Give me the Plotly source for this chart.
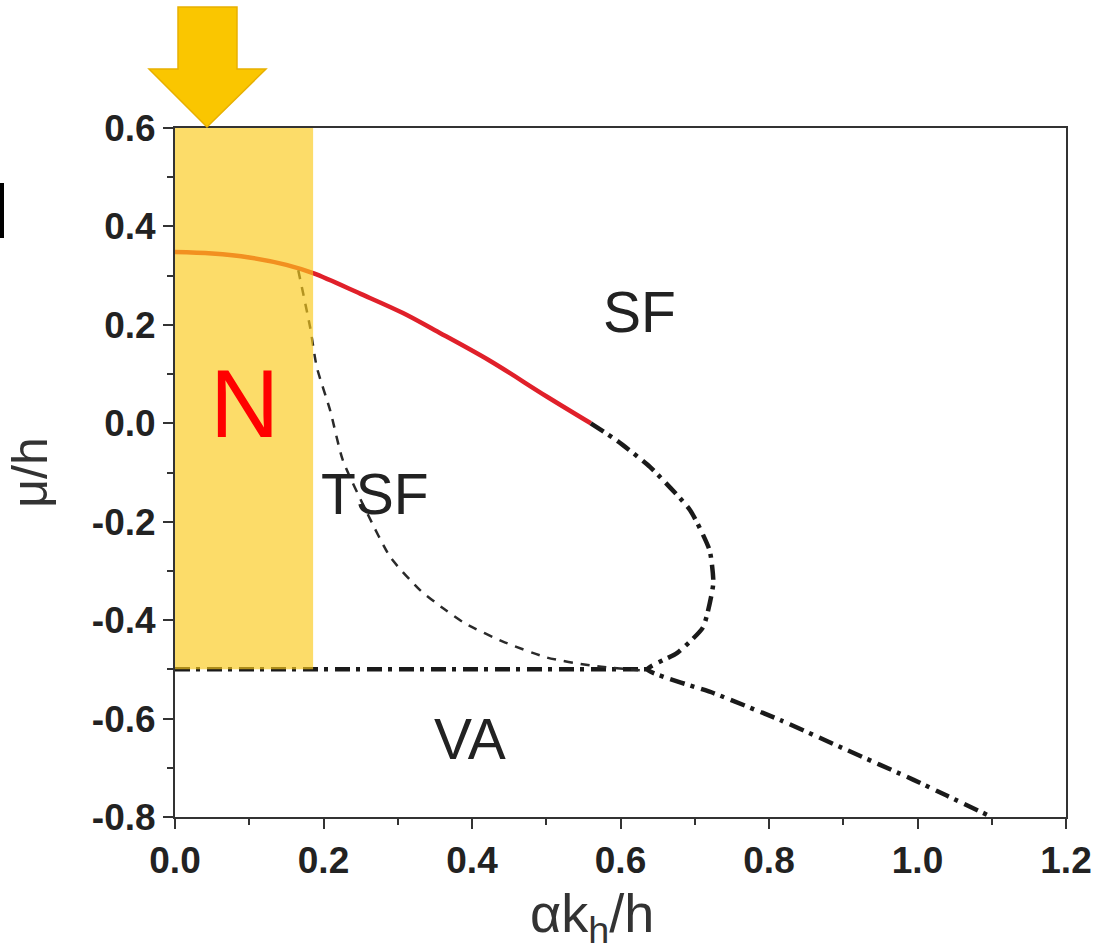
import plotly.graph_objects as go

# ---- data ----
# SF / TSF boundary (solid red)
red_x = [0.0, 0.05, 0.1, 0.15, 0.186, 0.25, 0.307, 0.35, 0.424, 0.5, 0.56]
red_y = [0.348, 0.345, 0.337, 0.322, 0.305, 0.263, 0.224, 0.189, 0.127, 0.055, 0.0]

# dash-dot continuation: loop + lower VA boundary
dd_x = [0.56, 0.595, 0.64, 0.694, 0.72, 0.725, 0.711, 0.676, 0.636,
        0.725, 0.815, 0.905, 0.994, 1.04, 1.1]
dd_y = [0.0, -0.035, -0.089, -0.177, -0.258, -0.325, -0.415, -0.467, -0.5,
        -0.548, -0.603, -0.664, -0.724, -0.757, -0.8]

# horizontal dash-dot at mu/h = -0.5
hz_x = [0.0, 0.636]
hz_y = [-0.5, -0.5]

# thin dashed TSF boundary
dash_x = [0.166, 0.182, 0.191, 0.209, 0.226, 0.259, 0.290, 0.330, 0.363,
          0.391, 0.444, 0.501, 0.559, 0.626]
dash_y = [0.311, 0.195, 0.114, 0.026, -0.075, -0.183, -0.272, -0.339, -0.378,
          -0.407, -0.445, -0.476, -0.492, -0.502]

# highlighted N region
n_x = [0.0, 0.186]
n_y = [-0.5, 0.6]

# region labels
lab_text = ["SF", "TSF", "VA"]
lab_x = [0.626, 0.27, 0.397]
lab_y = [0.226, -0.144, -0.642]

x_ticks = [0.0, 0.2, 0.4, 0.6, 0.8, 1.0, 1.2]
y_ticks = [0.6, 0.4, 0.2, 0.0, -0.2, -0.4, -0.6, -0.8]

W, H = 1108, 952
ML, MR, MT, MB = 175, 42, 128, 135
PW, PH = W - ML - MR, H - MT - MB


def px(xp):
    return (xp - ML) / PW


def py(yp):
    return (H - MB - yp) / PH


fig = go.Figure()

fig.add_trace(go.Scatter(x=red_x, y=red_y, mode="lines",
                         line=dict(color="#e0202a", width=4.5, shape="spline", smoothing=1.0),
                         hoverinfo="skip", showlegend=False))
fig.add_trace(go.Scatter(x=dd_x, y=dd_y, mode="lines",
                         line=dict(color="#1a1a1a", width=4.5, dash="15px,6px,4px,7px",
                                   shape="spline", smoothing=0.5),
                         hoverinfo="skip", showlegend=False))
fig.add_trace(go.Scatter(x=hz_x, y=hz_y, mode="lines",
                         line=dict(color="#1a1a1a", width=4.5, dash="15px,6px,4px,7px"),
                         hoverinfo="skip", showlegend=False))
fig.add_trace(go.Scatter(x=dash_x, y=dash_y, mode="lines",
                         line=dict(color="#2a2a2a", width=2.5, dash="9px,8px",
                                   shape="spline", smoothing=0.6),
                         hoverinfo="skip", showlegend=False))

shapes = []
# semi-transparent yellow N band
shapes.append(dict(type="rect", xref="x", yref="y", x0=n_x[0], x1=n_x[1],
                   y0=n_y[0], y1=n_y[1], fillcolor="rgb(251,202,28)", opacity=0.66,
                   line=dict(width=0), layer="above"))
# gold arrow (decoration above the plot)
ax = [178, 237, 237, 266, 207, 149, 178]
ay = [7, 7, 69, 69, 127, 69, 69]
path = "M " + " L ".join(f"{px(a):.5f},{py(b):.5f}" for a, b in zip(ax, ay)) + " Z"
shapes.append(dict(type="path", xref="paper", yref="paper", path=path,
                   fillcolor="#fac600", line=dict(color="#e8b000", width=1.5), layer="above"))
# clipped glyph at the far left
shapes.append(dict(type="rect", xref="paper", yref="paper", x0=px(0), x1=px(4),
                   y0=py(238), y1=py(183), fillcolor="black", line=dict(width=0)))

annotations = []
for t, x, y in zip(lab_text, lab_x, lab_y):
    annotations.append(dict(x=x, y=y, xref="x", yref="y", text=t, showarrow=False,
                            font=dict(family="Liberation Sans, Arial", size=57, color="#222")))
annotations.append(dict(x=0.093, y=0.041, xref="x", yref="y", text="N", showarrow=False,
                        font=dict(family="Liberation Sans, Arial", size=96, color="#ff0000")))
# x-axis title (placed slightly left of centre, as in the reference)
annotations.append(dict(x=px(592), y=py(917), xref="paper", yref="paper",
                        xanchor="center", yanchor="middle", showarrow=False,
                        text="αk<sub>h</sub>/h",
                        font=dict(family="Liberation Sans, Arial", size=54, color="#333")))

axis_common = dict(showline=True, linecolor="#333", linewidth=2, mirror=True,
                   ticks="outside", tickcolor="#333", tickwidth=2, ticklen=10,
                   showgrid=False, zeroline=False,
                   tickfont=dict(family="Liberation Sans, Arial", size=37, color="#222",
                                 weight="bold"),
                   minor=dict(ticks="outside", ticklen=6, tickwidth=2, tickcolor="#333",
                              dtick=0.1, showgrid=False))

fig.update_layout(
    width=W, height=H,
    margin=dict(l=ML, r=MR, t=MT, b=MB),
    paper_bgcolor="white", plot_bgcolor="white",
    shapes=shapes, annotations=annotations,
    xaxis=dict(range=[0, 1.2], tickvals=x_ticks, ticktext=[f"{v:.1f}" for v in x_ticks],
               **axis_common),
    yaxis=dict(range=[-0.8, 0.6], tickvals=y_ticks, ticktext=[f"{v:.1f}" for v in y_ticks],
               title=dict(text="μ/h", standoff=28,
                          font=dict(family="Liberation Sans, Arial", size=50, color="#333")),
               **axis_common),
)

fig.write_html("out.html")
